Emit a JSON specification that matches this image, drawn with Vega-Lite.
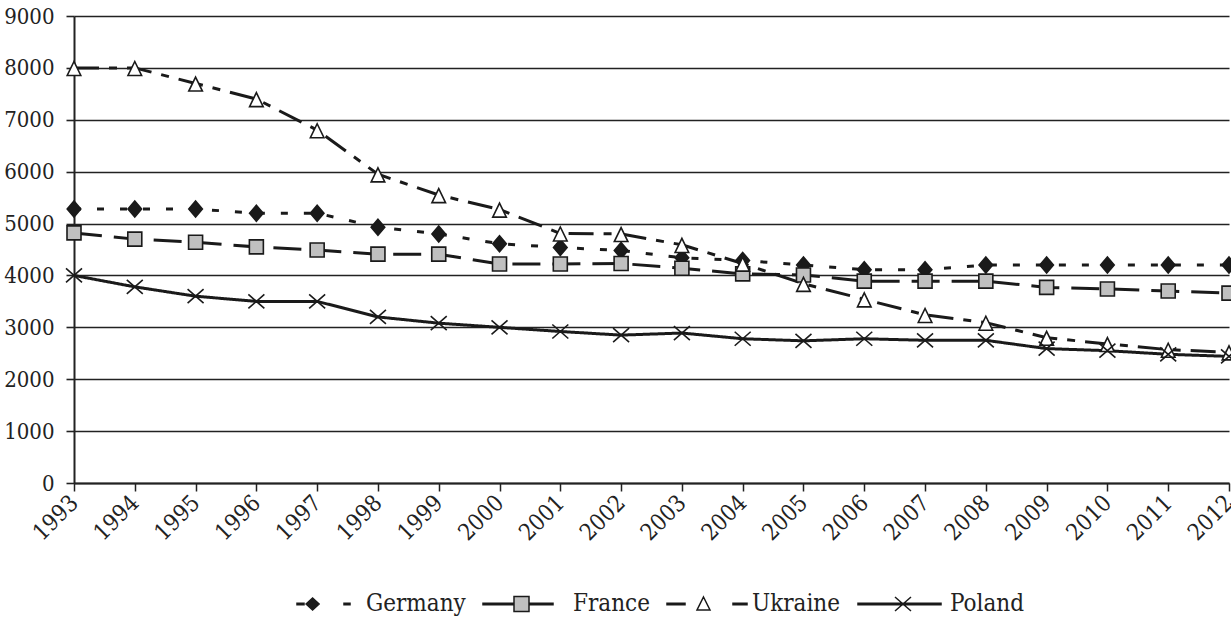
{
  "$schema": "https://vega.github.io/schema/vega-lite/v6.json",
  "autosize": "none",
  "width": 1155,
  "height": 467,
  "padding": {"left": 74, "top": 16, "right": 2, "bottom": 139},
  "background": "white",
  "config": {
    "view": {"stroke": null},
    "font": "DejaVu Serif Condensed",
    "axisX": {"labelFont": "DejaVu Serif Condensed", "labelColor": "#222", "labelFontSize": 23},
    "axisY": {"labelFont": "DejaVu Serif Condensed", "labelColor": "#222", "labelFontSize": 22},
    "legend": {"labelFont": "DejaVu Serif Condensed"}
  },
  "data": {
    "values": [
      {"year": "1993", "country": "Germany", "value": 5280},
      {"year": "1994", "country": "Germany", "value": 5280},
      {"year": "1995", "country": "Germany", "value": 5280},
      {"year": "1996", "country": "Germany", "value": 5200},
      {"year": "1997", "country": "Germany", "value": 5200},
      {"year": "1998", "country": "Germany", "value": 4930},
      {"year": "1999", "country": "Germany", "value": 4800},
      {"year": "2000", "country": "Germany", "value": 4610},
      {"year": "2001", "country": "Germany", "value": 4540},
      {"year": "2002", "country": "Germany", "value": 4480},
      {"year": "2003", "country": "Germany", "value": 4340},
      {"year": "2004", "country": "Germany", "value": 4290},
      {"year": "2005", "country": "Germany", "value": 4200},
      {"year": "2006", "country": "Germany", "value": 4110},
      {"year": "2007", "country": "Germany", "value": 4110},
      {"year": "2008", "country": "Germany", "value": 4200},
      {"year": "2009", "country": "Germany", "value": 4200},
      {"year": "2010", "country": "Germany", "value": 4200},
      {"year": "2011", "country": "Germany", "value": 4200},
      {"year": "2012", "country": "Germany", "value": 4200},
      {"year": "1993", "country": "France", "value": 4820},
      {"year": "1994", "country": "France", "value": 4700},
      {"year": "1995", "country": "France", "value": 4640},
      {"year": "1996", "country": "France", "value": 4550},
      {"year": "1997", "country": "France", "value": 4490},
      {"year": "1998", "country": "France", "value": 4410},
      {"year": "1999", "country": "France", "value": 4410},
      {"year": "2000", "country": "France", "value": 4220},
      {"year": "2001", "country": "France", "value": 4220},
      {"year": "2002", "country": "France", "value": 4230},
      {"year": "2003", "country": "France", "value": 4140},
      {"year": "2004", "country": "France", "value": 4030},
      {"year": "2005", "country": "France", "value": 4010},
      {"year": "2006", "country": "France", "value": 3890},
      {"year": "2007", "country": "France", "value": 3890},
      {"year": "2008", "country": "France", "value": 3890},
      {"year": "2009", "country": "France", "value": 3770},
      {"year": "2010", "country": "France", "value": 3740},
      {"year": "2011", "country": "France", "value": 3700},
      {"year": "2012", "country": "France", "value": 3660},
      {"year": "1993", "country": "Ukraine", "value": 8000},
      {"year": "1994", "country": "Ukraine", "value": 8000},
      {"year": "1995", "country": "Ukraine", "value": 7700},
      {"year": "1996", "country": "Ukraine", "value": 7400},
      {"year": "1997", "country": "Ukraine", "value": 6800},
      {"year": "1998", "country": "Ukraine", "value": 5950},
      {"year": "1999", "country": "Ukraine", "value": 5550},
      {"year": "2000", "country": "Ukraine", "value": 5270},
      {"year": "2001", "country": "Ukraine", "value": 4810},
      {"year": "2002", "country": "Ukraine", "value": 4800},
      {"year": "2003", "country": "Ukraine", "value": 4590},
      {"year": "2004", "country": "Ukraine", "value": 4230},
      {"year": "2005", "country": "Ukraine", "value": 3840},
      {"year": "2006", "country": "Ukraine", "value": 3540},
      {"year": "2007", "country": "Ukraine", "value": 3240},
      {"year": "2008", "country": "Ukraine", "value": 3090},
      {"year": "2009", "country": "Ukraine", "value": 2800},
      {"year": "2010", "country": "Ukraine", "value": 2680},
      {"year": "2011", "country": "Ukraine", "value": 2570},
      {"year": "2012", "country": "Ukraine", "value": 2520},
      {"year": "1993", "country": "Poland", "value": 4000},
      {"year": "1994", "country": "Poland", "value": 3780},
      {"year": "1995", "country": "Poland", "value": 3600},
      {"year": "1996", "country": "Poland", "value": 3500},
      {"year": "1997", "country": "Poland", "value": 3500},
      {"year": "1998", "country": "Poland", "value": 3200},
      {"year": "1999", "country": "Poland", "value": 3080},
      {"year": "2000", "country": "Poland", "value": 3000},
      {"year": "2001", "country": "Poland", "value": 2920},
      {"year": "2002", "country": "Poland", "value": 2850},
      {"year": "2003", "country": "Poland", "value": 2890},
      {"year": "2004", "country": "Poland", "value": 2780},
      {"year": "2005", "country": "Poland", "value": 2740},
      {"year": "2006", "country": "Poland", "value": 2780},
      {"year": "2007", "country": "Poland", "value": 2750},
      {"year": "2008", "country": "Poland", "value": 2750},
      {"year": "2009", "country": "Poland", "value": 2590},
      {"year": "2010", "country": "Poland", "value": 2550},
      {"year": "2011", "country": "Poland", "value": 2480},
      {"year": "2012", "country": "Poland", "value": 2440}
    ]
  },
  "encoding": {
    "x": {
      "field": "year", "type": "ordinal",
      "scale": {"type": "point", "padding": 0},
      "axis": {
        "title": null, "labelAngle": -45, "labelAlign": "right", "labelBaseline": "middle",
        "labelPadding": 8, "tickSize": 8, "tickColor": "#222", "tickWidth": 1.5,
        "domainColor": "#222", "domainWidth": 2, "grid": false
      }
    },
    "y": {
      "field": "value", "type": "quantitative",
      "scale": {"domain": [0, 9000], "nice": false},
      "axis": {
        "title": null, "values": [0, 1000, 2000, 3000, 4000, 5000, 6000, 7000, 8000, 9000],
        "format": "d", "grid": true, "gridColor": "#222", "gridWidth": 1.6,
        "tickSize": 8, "tickColor": "#222", "tickWidth": 1.6, "labelPadding": 12,
        "domainColor": "#222", "domainWidth": 2
      }
    }
  },
  "layer": [
    {
      "mark": {"type": "line", "color": "#1a1a1a", "strokeWidth": 3},
      "encoding": {
        "detail": {"field": "country"},
        "strokeDash": {
          "field": "country", "type": "nominal",
          "scale": {"domain": ["Germany", "France", "Ukraine", "Poland"], "range": [[7, 16], [28, 12], [25, 10, 8, 10], [1, 0]]},
          "legend": null
        }
      }
    },
    {
      "mark": {"type": "point", "filled": true, "stroke": "#1a1a1a", "strokeWidth": 1.6, "size": 256, "opacity": 1},
      "encoding": {
        "shape": {
          "field": "country", "type": "nominal",
          "scale": {
            "domain": ["Germany", "France", "Ukraine", "Poland"],
            "range": [
              "M0,-1L0.85,0L0,1L-0.85,0Z",
              "M-0.875,-0.875H0.875V0.875H-0.875Z",
              "M0,-0.8L0.85,0.95L-0.85,0.95Z",
              "M-1,-0.875L1,0.875M-1,0.875L1,-0.875"
            ]
          },
          "legend": null
        },
        "fill": {
          "field": "country", "type": "nominal",
          "scale": {"domain": ["Germany", "France", "Ukraine", "Poland"], "range": ["#1a1a1a", "#c0c0c0", "white", "transparent"]},
          "legend": null
        }
      }
    },
    {
      "mark": {"type": "point", "filled": true, "stroke": "#1a1a1a", "strokeWidth": 1.5, "opacity": 0},
      "encoding": {
        "shape": {
          "field": "country", "type": "nominal",
          "scale": {
            "domain": ["Germany", "France", "Ukraine", "Poland"],
            "range": [
              "M-50,-0.75H-43V0.75H-50Z M-34.4,-6L-27.9,0L-34.4,6L-40.9,0Z M-3,-0.75H3V0.75H-3Z",
              "M-71,-0.75H-40V0.75H-71Z M-40,-7.5H-25V7.5H-40Z M-25,-0.75H-1V0.75H-25Z",
              "M-66,-0.75H-48V0.75H-66Z M-29.5,-7L-23,6L-36,6Z M0,-0.75H14V0.75H0Z",
              "M-73,-0.75H10V0.75H-73Z M-36,-7L-20,7M-36,7L-20,-7"
            ]
          },
          "legend": {
            "title": null, "orient": "none", "direction": "horizontal",
            "legendX": 261, "legendY": 576,
            "symbolSize": 4, "symbolStrokeWidth": 1.5, "symbolStrokeColor": "#1a1a1a", "symbolOpacity": 1,
            "labelFont": "DejaVu Serif Condensed", "labelFontSize": 24, "labelColor": "#222",
            "labelOffset": 7, "columnPadding": 14, "symbolOffset": 0,
            "encode": {"symbols": {"update": {"stroke": {"value": "#1a1a1a"}, "strokeWidth": {"value": 1.5}, "opacity": {"value": 1}}}}
          }
        },
        "fill": {
          "field": "country", "type": "nominal",
          "scale": {"domain": ["Germany", "France", "Ukraine", "Poland"], "range": ["#1a1a1a", "#c0c0c0", "white", "transparent"]},
          "legend": {
            "title": null, "orient": "none", "direction": "horizontal",
            "legendX": 261, "legendY": 576,
            "symbolSize": 4, "symbolStrokeWidth": 1.5, "symbolStrokeColor": "#1a1a1a", "symbolOpacity": 1,
            "labelFont": "DejaVu Serif Condensed", "labelFontSize": 24, "labelColor": "#222",
            "labelOffset": 7, "columnPadding": 14, "symbolOffset": 0,
            "encode": {"symbols": {"update": {"stroke": {"value": "#1a1a1a"}, "strokeWidth": {"value": 1.5}, "opacity": {"value": 1}}}}
          }
        }
      }
    }
  ],
  "resolve": {"scale": {"shape": "independent", "fill": "independent", "strokeDash": "independent"}}
}
